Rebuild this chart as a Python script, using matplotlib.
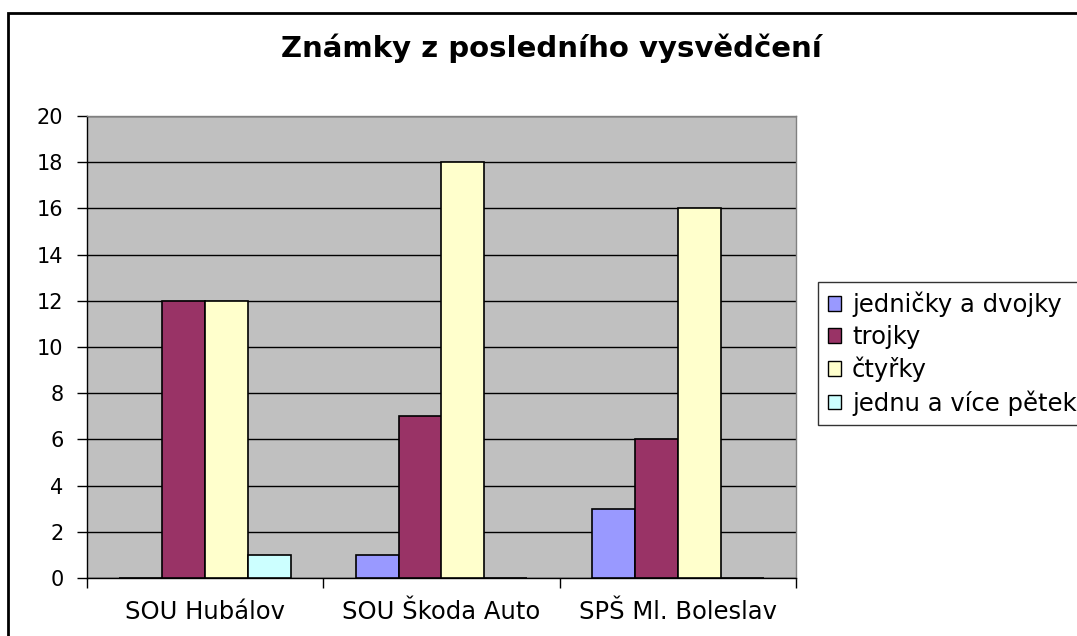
import matplotlib
matplotlib.use("Agg")
import matplotlib.pyplot as plt
import numpy as np
from matplotlib.patches import Rectangle

plt.rcParams['font.family'] = ['DejaVu Sans']

title = "Známky z posledního vysvědčení"
categories = ["SOU Hubálov", "SOU Škoda Auto", "SPŠ Ml. Boleslav"]
series_names = ["jedničky a dvojky", "trojky", "čtyřky", "jednu a více pětek"]
values = {
    "jedničky a dvojky": [0, 1, 3],
    "trojky": [12, 7, 6],
    "čtyřky": [12, 18, 16],
    "jednu a více pětek": [1, 0, 0],
}
colors = ["#9999FF", "#993366", "#FFFFCC", "#CCFFFF"]
yticks = list(range(0, 21, 2))

W, H = 1077, 636
fig = plt.figure(figsize=(W / 100, H / 100), dpi=100)
ax = fig.add_axes([87 / W, 1 - 578 / H, (796 - 87) / W, (578 - 116) / H])
ax.set_facecolor("#C0C0C0")

n = len(series_names)
bw = 1 / (n + 1.5)
x = np.arange(len(categories))
for i, name in enumerate(series_names):
    offs = (i - (n - 1) / 2) * bw
    ax.bar(x + offs, values[name], width=bw, color=colors[i],
           edgecolor="black", linewidth=1.2, zorder=3)

ax.set_xlim(-0.5, len(categories) - 0.5)
ax.set_ylim(0, 20)
ax.set_yticks(yticks)
ax.yaxis.grid(True, color="black", linewidth=1, zorder=1)
ax.set_axisbelow(True)

ax.set_xticks(np.arange(len(categories) + 1) - 0.5)
ax.set_xticklabels([])
ax.set_xticks(x, minor=True)
ax.set_xticklabels(categories, minor=True, fontsize=17.5)
ax.tick_params(axis='x', which='major', direction='out', length=7, width=1, color='black')
ax.tick_params(axis='x', which='minor', length=0, pad=16)
ax.tick_params(axis='y', direction='out', length=7, width=1, pad=10, labelsize=15)

for s in ["top", "right"]:
    ax.spines[s].set_color("#808080")
    ax.spines[s].set_linewidth(1)
for s in ["left", "bottom"]:
    ax.spines[s].set_color("black")
    ax.spines[s].set_linewidth(1)

fig.text(551 / W, 1 - 48 / H, title, ha="center", va="center",
         fontsize=21, fontweight="bold")

handles = [Rectangle((0, 0), 1, 1, facecolor=c, edgecolor="black", linewidth=1) for c in colors]
leg = fig.legend(handles, series_names, loc="upper left",
                 bbox_to_anchor=(818 / W, 1 - 282 / H), fontsize=17.5,
                 frameon=True, fancybox=False, edgecolor="black",
                 handlelength=0.55, handleheight=0.55, handletextpad=0.45,
                 labelspacing=0.32, borderpad=0.4, borderaxespad=0)
leg.get_frame().set_linewidth(1)

frame = Rectangle((8 / W, -0.1), 1.2, 1.1 - 13 / H, transform=fig.transFigure,
                  fill=False, edgecolor="black", linewidth=2, clip_on=False)
fig.patches.append(frame)

fig.savefig("out.png", dpi=100)
